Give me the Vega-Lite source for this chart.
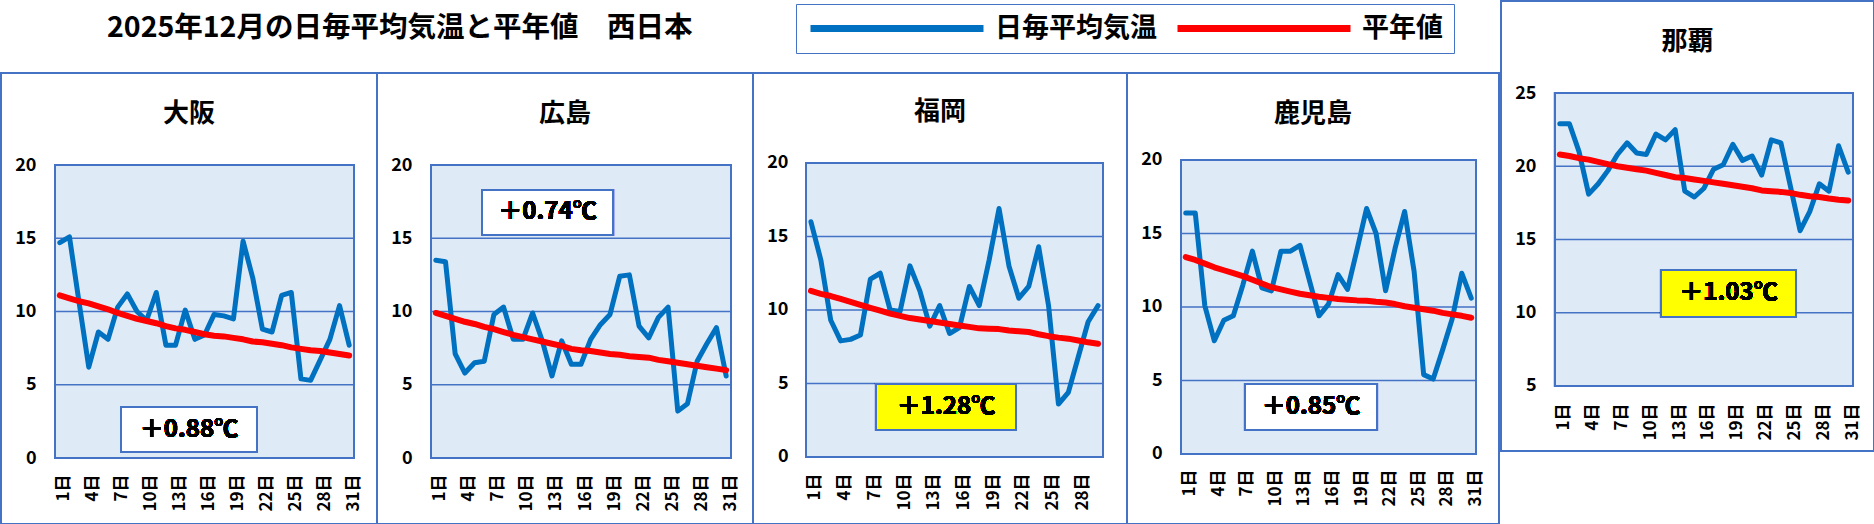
{
  "$schema": "https://vega.github.io/schema/vega-lite/v6.json",
  "padding": 0,
  "background": "white",
  "spacing": 0,
  "config": {
    "font": "Noto Sans CJK JP",
    "view": {"stroke": "#4472C4", "strokeWidth": 2, "fill": "white"},
    "axis": {"domain": false, "ticks": false, "tickSize": 0, "grid": false, "labelPadding": 0, "labelColor": "black", "labelFontWeight": "bold", "labelFont": "Noto Sans CJK JP", "labelFlush": false, "labelOverlap": false},
    "axisX": {"labelAngle": -90, "labelFontSize": 17, "labelOffset": 4, "labelOverlap": false, "tickCount": 40},
    "axisY": {"labelFontSize": 18, "tickCount": 10},
    "title": {"fontSize": 26, "fontWeight": "bold", "color": "black", "font": "Noto Sans CJK JP", "anchor": "middle", "frame": "group"}
  },
  "hconcat": [
    {
      "spacing": 0,
      "bounds": "flush",
      "vconcat": [
        {
          "width": 1498,
          "height": 72,
          "view": {"stroke": null, "fill": null},
          "title": {"text": "2025年12月の日毎平均気温と平年値　西日本", "anchor": "start", "dx": 106, "offset": -41, "fontSize": 28.5},
          "data": {"values": [{"s": "日毎平均気温"}, {"s": "平年値"}]},
          "mark": {"type": "point", "opacity": 0},
          "encoding": {
            "color": {
              "field": "s", "type": "nominal",
              "scale": {"domain": ["日毎平均気温", "平年値"], "range": ["#0070C0", "#FF0000"]},
              "legend": {
                "title": null, "orient": "none", "legendX": 795, "legendY": 3, "direction": "horizontal",
                "symbolType": "stroke", "symbolSize": 29929, "symbolStrokeWidth": 7, "symbolOpacity": 1,
                "clipHeight": 27, "labelFontSize": 27, "labelFontWeight": "bold", "labelColor": "black", "labelLimit": 0,
                "labelOffset": 8, "columnPadding": 17, "padding": 11,
                "strokeColor": "#4472C4", "fillColor": "white"
              }
            }
          }
        },
        {
          "spacing": 0,
          "bounds": "flush",
          "hconcat": [
            {
              "width": 376, "height": 451,
              "title": {"text": "大阪", "offset": -54},
              "data": {"values": [
                {"d":1,"t":14.7,"n":11.1},{"d":2,"t":15.1,"n":10.9},{"d":3,"t":10.6,"n":10.7},{"d":4,"t":6.2,"n":10.55},
                {"d":5,"t":8.6,"n":10.35},{"d":6,"t":8.1,"n":10.15},{"d":7,"t":10.3,"n":9.9},{"d":8,"t":11.2,"n":9.7},
                {"d":9,"t":10.0,"n":9.5},{"d":10,"t":9.4,"n":9.35},{"d":11,"t":11.3,"n":9.2},{"d":12,"t":7.7,"n":9.0},
                {"d":13,"t":7.7,"n":8.85},{"d":14,"t":10.1,"n":8.75},{"d":15,"t":8.1,"n":8.6},{"d":16,"t":8.4,"n":8.45},
                {"d":17,"t":9.8,"n":8.35},{"d":18,"t":9.7,"n":8.3},{"d":19,"t":9.5,"n":8.2},{"d":20,"t":14.8,"n":8.1},
                {"d":21,"t":12.3,"n":7.95},{"d":22,"t":8.8,"n":7.9},{"d":23,"t":8.6,"n":7.8},{"d":24,"t":11.1,"n":7.7},
                {"d":25,"t":11.3,"n":7.55},{"d":26,"t":5.4,"n":7.45},{"d":27,"t":5.3,"n":7.35},{"d":28,"t":6.7,"n":7.3},
                {"d":29,"t":8.1,"n":7.2},{"d":30,"t":10.4,"n":7.1},{"d":31,"t":7.7,"n":7.0}
              ]},
              "layer": [
                {"mark": {"type": "rect", "fill": "#DEEBF7", "stroke": "#4472C4", "strokeWidth": 2},
                 "encoding": {
                   "x": {"datum": 0.5, "type": "quantitative", "scale": {"domain": [-5.099, 33.885], "nice": false, "zero": false},
                         "axis": {"title": null, "values": [1,4,7,10,13,16,19,22,25,28,31], "labelExpr": "datum.value + '日'", "offset": -50, "tickCount": 40}},
                   "x2": {"datum": 31.5},
                   "y": {"datum": 0, "type": "quantitative", "scale": {"domain": [-4.505, 26.28], "nice": false, "zero": false},
                         "axis": {"title": null, "values": [0,5,10,15,20], "offset": -35, "tickCount": 10}},
                   "y2": {"datum": 20}}},
                {"data": {"values": [{"g": 5}, {"g": 10}, {"g": 15}]},
                 "mark": {"type": "rule", "stroke": "#4472C4", "strokeWidth": 1.5},
                 "encoding": {"x": {"datum": 0.5, "type": "quantitative", "axis": {"title": null}}, "x2": {"datum": 31.5},
                              "y": {"field": "g", "type": "quantitative", "axis": {"title": null}}}},
                {"mark": {"type": "line", "color": "#0070C0", "strokeWidth": 5, "strokeJoin": "round", "strokeCap": "round"},
                 "encoding": {"x": {"field": "d", "type": "quantitative", "axis": {"title": null}}, "y": {"field": "t", "type": "quantitative", "axis": {"title": null}}}},
                {"mark": {"type": "line", "color": "#FF0000", "strokeWidth": 6, "strokeJoin": "round", "strokeCap": "round"},
                 "encoding": {"x": {"field": "d", "type": "quantitative", "axis": {"title": null}}, "y": {"field": "n", "type": "quantitative", "axis": {"title": null}}}},
                {"mark": {"type": "rect", "fill": "white", "stroke": "#4472C4", "strokeWidth": 2},
                 "encoding": {"x": {"datum": 7.343, "type": "quantitative", "axis": {"title": null}}, "x2": {"datum": 21.443},
                              "y": {"datum": 0.41, "type": "quantitative", "axis": {"title": null}}, "y2": {"datum": 3.481}}},
                {"mark": {"type": "text", "text": "＋0.88℃", "fontSize": 24, "fontWeight": "bold", "color": "black", "baseline": "middle", "align": "center"},
                 "encoding": {"x": {"datum": 14.393, "type": "quantitative", "axis": {"title": null}}, "y": {"datum": 1.945, "type": "quantitative", "axis": {"title": null}}}}
              ]
            },
            {
              "width": 376, "height": 451,
              "title": {"text": "広島", "offset": -54},
              "data": {"values": [
                {"d":1,"t":13.5,"n":9.9},{"d":2,"t":13.4,"n":9.7},{"d":3,"t":7.1,"n":9.5},{"d":4,"t":5.8,"n":9.3},
                {"d":5,"t":6.5,"n":9.15},{"d":6,"t":6.6,"n":8.95},{"d":7,"t":9.8,"n":8.8},{"d":8,"t":10.3,"n":8.6},
                {"d":9,"t":8.1,"n":8.4},{"d":10,"t":8.1,"n":8.25},{"d":11,"t":9.9,"n":8.1},{"d":12,"t":8.0,"n":7.95},
                {"d":13,"t":5.6,"n":7.8},{"d":14,"t":8.0,"n":7.65},{"d":15,"t":6.4,"n":7.45},{"d":16,"t":6.4,"n":7.35},
                {"d":17,"t":8.1,"n":7.3},{"d":18,"t":9.1,"n":7.2},{"d":19,"t":9.8,"n":7.1},{"d":20,"t":12.4,"n":7.05},
                {"d":21,"t":12.5,"n":6.95},{"d":22,"t":9.0,"n":6.9},{"d":23,"t":8.2,"n":6.85},{"d":24,"t":9.6,"n":6.7},
                {"d":25,"t":10.3,"n":6.6},{"d":26,"t":3.2,"n":6.5},{"d":27,"t":3.7,"n":6.4},{"d":28,"t":6.6,"n":6.3},
                {"d":29,"t":7.8,"n":6.2},{"d":30,"t":8.9,"n":6.1},{"d":31,"t":5.6,"n":6.0}
              ]},
              "layer": [
                {"mark": {"type": "rect", "fill": "#DEEBF7", "stroke": "#4472C4", "strokeWidth": 2},
                 "encoding": {
                   "x": {"datum": 0.5, "type": "quantitative", "scale": {"domain": [-5.08, 33.773], "nice": false, "zero": false},
                         "axis": {"title": null, "values": [1,4,7,10,13,16,19,22,25,28,31], "labelExpr": "datum.value + '日'", "offset": -50, "tickCount": 40}},
                   "x2": {"datum": 31.5},
                   "y": {"datum": 0, "type": "quantitative", "scale": {"domain": [-4.505, 26.28], "nice": false, "zero": false},
                         "axis": {"title": null, "values": [0,5,10,15,20], "offset": -35, "tickCount": 10}},
                   "y2": {"datum": 20}}},
                {"data": {"values": [{"g": 5}, {"g": 10}, {"g": 15}]},
                 "mark": {"type": "rule", "stroke": "#4472C4", "strokeWidth": 1.5},
                 "encoding": {"x": {"datum": 0.5, "type": "quantitative", "axis": {"title": null}}, "x2": {"datum": 31.5},
                              "y": {"field": "g", "type": "quantitative", "axis": {"title": null}}}},
                {"mark": {"type": "line", "color": "#0070C0", "strokeWidth": 5, "strokeJoin": "round", "strokeCap": "round"},
                 "encoding": {"x": {"field": "d", "type": "quantitative", "axis": {"title": null}}, "y": {"field": "t", "type": "quantitative", "axis": {"title": null}}}},
                {"mark": {"type": "line", "color": "#FF0000", "strokeWidth": 6, "strokeJoin": "round", "strokeCap": "round"},
                 "encoding": {"x": {"field": "d", "type": "quantitative", "axis": {"title": null}}, "y": {"field": "n", "type": "quantitative", "axis": {"title": null}}}},
                {"mark": {"type": "rect", "fill": "white", "stroke": "#4472C4", "strokeWidth": 2},
                 "encoding": {"x": {"datum": 5.77, "type": "quantitative", "axis": {"title": null}}, "x2": {"datum": 19.308},
                              "y": {"datum": 15.222, "type": "quantitative", "axis": {"title": null}}, "y2": {"datum": 18.294}}},
                {"mark": {"type": "text", "text": "＋0.74℃", "fontSize": 24, "fontWeight": "bold", "color": "black", "baseline": "middle", "align": "center"},
                 "encoding": {"x": {"datum": 12.539, "type": "quantitative", "axis": {"title": null}}, "y": {"datum": 16.758, "type": "quantitative", "axis": {"title": null}}}}
              ]
            },
            {
              "width": 374, "height": 451,
              "title": {"text": "福岡", "offset": -52},
              "data": {"values": [
                {"d":1,"t":16.0,"n":11.3},{"d":2,"t":13.4,"n":11.1},{"d":3,"t":9.3,"n":10.95},{"d":4,"t":7.9,"n":10.75},
                {"d":5,"t":8.0,"n":10.55},{"d":6,"t":8.3,"n":10.35},{"d":7,"t":12.1,"n":10.15},{"d":8,"t":12.5,"n":9.95},
                {"d":9,"t":10.0,"n":9.75},{"d":10,"t":9.9,"n":9.6},{"d":11,"t":13.0,"n":9.45},{"d":12,"t":11.3,"n":9.35},
                {"d":13,"t":8.9,"n":9.25},{"d":14,"t":10.3,"n":9.15},{"d":15,"t":8.4,"n":9.05},{"d":16,"t":8.8,"n":8.95},
                {"d":17,"t":11.6,"n":8.85},{"d":18,"t":10.3,"n":8.75},{"d":19,"t":13.4,"n":8.72},{"d":20,"t":16.9,"n":8.7},
                {"d":21,"t":13.0,"n":8.6},{"d":22,"t":10.8,"n":8.55},{"d":23,"t":11.6,"n":8.5},{"d":24,"t":14.3,"n":8.35},
                {"d":25,"t":10.3,"n":8.22},{"d":26,"t":3.6,"n":8.12},{"d":27,"t":4.4,"n":8.05},{"d":28,"t":6.8,"n":7.93},
                {"d":29,"t":9.2,"n":7.8},{"d":30,"t":10.3,"n":7.7}
              ]},
              "layer": [
                {"mark": {"type": "rect", "fill": "#DEEBF7", "stroke": "#4472C4", "strokeWidth": 2},
                 "encoding": {
                   "x": {"datum": 0.5, "type": "quantitative", "scale": {"domain": [-4.854, 32.924], "nice": false, "zero": false},
                         "axis": {"title": null, "values": [1,4,7,10,13,16,19,22,25,28], "labelExpr": "datum.value + '日'", "offset": -51, "tickCount": 40}},
                   "x2": {"datum": 30.5},
                   "y": {"datum": 0, "type": "quantitative", "scale": {"domain": [-4.558, 26.122], "nice": false, "zero": false},
                         "axis": {"title": null, "values": [0,5,10,15,20], "offset": -35, "tickCount": 10}},
                   "y2": {"datum": 20}}},
                {"data": {"values": [{"g": 5}, {"g": 10}, {"g": 15}]},
                 "mark": {"type": "rule", "stroke": "#4472C4", "strokeWidth": 1.5},
                 "encoding": {"x": {"datum": 0.5, "type": "quantitative", "axis": {"title": null}}, "x2": {"datum": 30.5},
                              "y": {"field": "g", "type": "quantitative", "axis": {"title": null}}}},
                {"mark": {"type": "line", "color": "#0070C0", "strokeWidth": 5, "strokeJoin": "round", "strokeCap": "round"},
                 "encoding": {"x": {"field": "d", "type": "quantitative", "axis": {"title": null}}, "y": {"field": "t", "type": "quantitative", "axis": {"title": null}}}},
                {"mark": {"type": "line", "color": "#FF0000", "strokeWidth": 6, "strokeJoin": "round", "strokeCap": "round"},
                 "encoding": {"x": {"field": "d", "type": "quantitative", "axis": {"title": null}}, "y": {"field": "n", "type": "quantitative", "axis": {"title": null}}}},
                {"mark": {"type": "rect", "fill": "#FFFF00", "stroke": "#4472C4", "strokeWidth": 2},
                 "encoding": {"x": {"datum": 7.57, "type": "quantitative", "axis": {"title": null}}, "x2": {"datum": 21.712},
                              "y": {"datum": 1.836, "type": "quantitative", "axis": {"title": null}}, "y2": {"datum": 4.966}}},
                {"mark": {"type": "text", "text": "＋1.28℃", "fontSize": 24, "fontWeight": "bold", "color": "black", "baseline": "middle", "align": "center"},
                 "encoding": {"x": {"datum": 14.641, "type": "quantitative", "axis": {"title": null}}, "y": {"datum": 3.401, "type": "quantitative", "axis": {"title": null}}}}
              ]
            },
            {
              "width": 372, "height": 451,
              "title": {"text": "鹿児島", "offset": -54},
              "data": {"values": [
                {"d":1,"t":16.4,"n":13.4},{"d":2,"t":16.4,"n":13.2},{"d":3,"t":10.1,"n":12.95},{"d":4,"t":7.7,"n":12.7},
                {"d":5,"t":9.1,"n":12.5},{"d":6,"t":9.4,"n":12.3},{"d":7,"t":11.5,"n":12.1},{"d":8,"t":13.8,"n":11.85},
                {"d":9,"t":11.3,"n":11.6},{"d":10,"t":11.1,"n":11.35},{"d":11,"t":13.8,"n":11.2},{"d":12,"t":13.8,"n":11.05},
                {"d":13,"t":14.2,"n":10.9},{"d":14,"t":11.8,"n":10.8},{"d":15,"t":9.4,"n":10.7},{"d":16,"t":10.2,"n":10.62},
                {"d":17,"t":12.2,"n":10.55},{"d":18,"t":11.2,"n":10.5},{"d":19,"t":13.9,"n":10.45},{"d":20,"t":16.7,"n":10.42},
                {"d":21,"t":15.0,"n":10.35},{"d":22,"t":11.1,"n":10.3},{"d":23,"t":14.0,"n":10.2},{"d":24,"t":16.5,"n":10.05},
                {"d":25,"t":12.4,"n":9.95},{"d":26,"t":5.4,"n":9.85},{"d":27,"t":5.1,"n":9.75},{"d":28,"t":7.1,"n":9.6},
                {"d":29,"t":9.2,"n":9.5},{"d":30,"t":12.3,"n":9.4},{"d":31,"t":10.6,"n":9.27}
              ]},
              "layer": [
                {"mark": {"type": "rect", "fill": "#DEEBF7", "stroke": "#4472C4", "strokeWidth": 2},
                 "encoding": {
                   "x": {"datum": 0.5, "type": "quantitative", "scale": {"domain": [-5.175, 33.917], "nice": false, "zero": false},
                         "axis": {"title": null, "values": [1,4,7,10,13,16,19,22,25,28,31], "labelExpr": "datum.value + '日'", "offset": -55, "tickCount": 40}},
                   "x2": {"datum": 31.5},
                   "y": {"datum": 0, "type": "quantitative", "scale": {"domain": [-4.762, 25.918], "nice": false, "zero": false},
                         "axis": {"title": null, "values": [0,5,10,15,20], "offset": -35, "tickCount": 10}},
                   "y2": {"datum": 20}}},
                {"data": {"values": [{"g": 5}, {"g": 10}, {"g": 15}]},
                 "mark": {"type": "rule", "stroke": "#4472C4", "strokeWidth": 1.5},
                 "encoding": {"x": {"datum": 0.5, "type": "quantitative", "axis": {"title": null}}, "x2": {"datum": 31.5},
                              "y": {"field": "g", "type": "quantitative", "axis": {"title": null}}}},
                {"mark": {"type": "line", "color": "#0070C0", "strokeWidth": 5, "strokeJoin": "round", "strokeCap": "round"},
                 "encoding": {"x": {"field": "d", "type": "quantitative", "axis": {"title": null}}, "y": {"field": "t", "type": "quantitative", "axis": {"title": null}}}},
                {"mark": {"type": "line", "color": "#FF0000", "strokeWidth": 6, "strokeJoin": "round", "strokeCap": "round"},
                 "encoding": {"x": {"field": "d", "type": "quantitative", "axis": {"title": null}}, "y": {"field": "n", "type": "quantitative", "axis": {"title": null}}}},
                {"mark": {"type": "rect", "fill": "white", "stroke": "#4472C4", "strokeWidth": 2},
                 "encoding": {"x": {"datum": 7.225, "type": "quantitative", "axis": {"title": null}}, "x2": {"datum": 21.097},
                              "y": {"datum": 1.632, "type": "quantitative", "axis": {"title": null}}, "y2": {"datum": 4.762}}},
                {"mark": {"type": "text", "text": "＋0.85℃", "fontSize": 24, "fontWeight": "bold", "color": "black", "baseline": "middle", "align": "center"},
                 "encoding": {"x": {"datum": 14.161, "type": "quantitative", "axis": {"title": null}}, "y": {"datum": 3.197, "type": "quantitative", "axis": {"title": null}}}}
              ]
            }
          ]
        }
      ]
    },
    {
      "width": 373, "height": 450,
      "title": {"text": "那覇", "offset": -54},
      "data": {"values": [
        {"d":1,"t":22.9,"n":20.8},{"d":2,"t":22.9,"n":20.7},{"d":3,"t":21.0,"n":20.55},{"d":4,"t":18.1,"n":20.45},
        {"d":5,"t":18.8,"n":20.3},{"d":6,"t":19.7,"n":20.15},{"d":7,"t":20.8,"n":20.0},{"d":8,"t":21.6,"n":19.9},
        {"d":9,"t":20.9,"n":19.8},{"d":10,"t":20.8,"n":19.7},{"d":11,"t":22.2,"n":19.55},{"d":12,"t":21.8,"n":19.4},
        {"d":13,"t":22.5,"n":19.25},{"d":14,"t":18.3,"n":19.2},{"d":15,"t":17.9,"n":19.1},{"d":16,"t":18.5,"n":19.0},
        {"d":17,"t":19.8,"n":18.9},{"d":18,"t":20.1,"n":18.8},{"d":19,"t":21.5,"n":18.7},{"d":20,"t":20.4,"n":18.6},
        {"d":21,"t":20.7,"n":18.5},{"d":22,"t":19.4,"n":18.35},{"d":23,"t":21.8,"n":18.3},{"d":24,"t":21.6,"n":18.25},
        {"d":25,"t":18.6,"n":18.18},{"d":26,"t":15.6,"n":18.05},{"d":27,"t":16.9,"n":17.95},{"d":28,"t":18.8,"n":17.9},
        {"d":29,"t":18.3,"n":17.8},{"d":30,"t":21.4,"n":17.72},{"d":31,"t":19.6,"n":17.66}
      ]},
      "layer": [
        {"mark": {"type": "rect", "fill": "#DEEBF7", "stroke": "#4472C4", "strokeWidth": 2},
         "encoding": {
           "x": {"datum": 0.5, "type": "quantitative", "scale": {"domain": [-5.117, 33.685], "nice": false, "zero": false},
                 "axis": {"title": null, "values": [1,4,7,10,13,16,19,22,25,28,31], "labelExpr": "datum.value + '日'", "offset": -48, "tickCount": 40}},
           "x2": {"datum": 31.5},
           "y": {"datum": 5, "type": "quantitative", "scale": {"domain": [0.563, 31.28], "nice": false, "zero": false},
                 "axis": {"title": null, "values": [5,10,15,20,25], "offset": -35, "tickCount": 10}},
           "y2": {"datum": 25}}},
        {"data": {"values": [{"g": 10}, {"g": 15}, {"g": 20}]},
         "mark": {"type": "rule", "stroke": "#4472C4", "strokeWidth": 1.5},
         "encoding": {"x": {"datum": 0.5, "type": "quantitative", "axis": {"title": null}}, "x2": {"datum": 31.5},
                      "y": {"field": "g", "type": "quantitative", "axis": {"title": null}}}},
        {"mark": {"type": "line", "color": "#0070C0", "strokeWidth": 5, "strokeJoin": "round", "strokeCap": "round"},
         "encoding": {"x": {"field": "d", "type": "quantitative", "axis": {"title": null}}, "y": {"field": "t", "type": "quantitative", "axis": {"title": null}}}},
        {"mark": {"type": "line", "color": "#FF0000", "strokeWidth": 6, "strokeJoin": "round", "strokeCap": "round"},
         "encoding": {"x": {"field": "d", "type": "quantitative", "axis": {"title": null}}, "y": {"field": "n", "type": "quantitative", "axis": {"title": null}}}},
        {"mark": {"type": "rect", "fill": "#FFFF00", "stroke": "#4472C4", "strokeWidth": 2},
         "encoding": {"x": {"datum": 11.527, "type": "quantitative", "axis": {"title": null}}, "x2": {"datum": 25.571},
                      "y": {"datum": 9.71, "type": "quantitative", "axis": {"title": null}}, "y2": {"datum": 12.918}}},
        {"mark": {"type": "text", "text": "＋1.03℃", "fontSize": 24, "fontWeight": "bold", "color": "black", "baseline": "middle", "align": "center"},
         "encoding": {"x": {"datum": 18.549, "type": "quantitative", "axis": {"title": null}}, "y": {"datum": 11.314, "type": "quantitative", "axis": {"title": null}}}}
      ]
    }
  ]
}
